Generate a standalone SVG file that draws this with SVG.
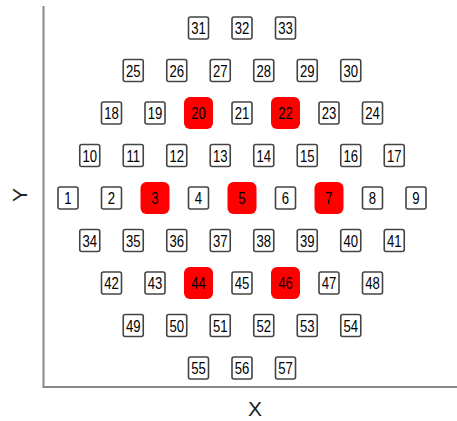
<svg xmlns="http://www.w3.org/2000/svg" width="457" height="421" viewBox="0 0 457 421">
<style>
.b{fill:#fff;stroke:#444;stroke-width:1.6}
.r{fill:#f00;stroke:none}
.t{font-family:"Liberation Sans",Arial,sans-serif;font-size:16px;fill:#000;text-anchor:middle;transform:scale(0.82,1)}
.ax{stroke:#888;stroke-width:2;fill:none}
.lbl{font-family:"Liberation Sans",Arial,sans-serif;font-size:21px;fill:#222;text-anchor:middle}
</style>
<rect width="457" height="421" fill="#fff"/>
<g id="axes">
<path class="ax" d="M43.5,6 V387 H457"/>
<text class="lbl" x="255" y="416">X</text>
<text class="lbl" transform="translate(27,195) rotate(-90)">Y</text>
</g>
<g id="connectors"/>
<g id="n31" transform="translate(198.5,28)"><rect class="b" x="-10" y="-11" width="20" height="22" rx="2"/><text class="t" y="6">31</text></g>
<g id="n32" transform="translate(242,28)"><rect class="b" x="-10" y="-11" width="20" height="22" rx="2"/><text class="t" y="6">32</text></g>
<g id="n33" transform="translate(285.5,28)"><rect class="b" x="-10" y="-11" width="20" height="22" rx="2"/><text class="t" y="6">33</text></g>
<g id="n25" transform="translate(133.25,70.5)"><rect class="b" x="-10" y="-11" width="20" height="22" rx="2"/><text class="t" y="6">25</text></g>
<g id="n26" transform="translate(176.75,70.5)"><rect class="b" x="-10" y="-11" width="20" height="22" rx="2"/><text class="t" y="6">26</text></g>
<g id="n27" transform="translate(220.25,70.5)"><rect class="b" x="-10" y="-11" width="20" height="22" rx="2"/><text class="t" y="6">27</text></g>
<g id="n28" transform="translate(263.75,70.5)"><rect class="b" x="-10" y="-11" width="20" height="22" rx="2"/><text class="t" y="6">28</text></g>
<g id="n29" transform="translate(307.25,70.5)"><rect class="b" x="-10" y="-11" width="20" height="22" rx="2"/><text class="t" y="6">29</text></g>
<g id="n30" transform="translate(350.75,70.5)"><rect class="b" x="-10" y="-11" width="20" height="22" rx="2"/><text class="t" y="6">30</text></g>
<g id="n18" transform="translate(111.5,113)"><rect class="b" x="-10" y="-11" width="20" height="22" rx="2"/><text class="t" y="6">18</text></g>
<g id="n19" transform="translate(155,113)"><rect class="b" x="-10" y="-11" width="20" height="22" rx="2"/><text class="t" y="6">19</text></g>
<g id="n20" transform="translate(198.5,113)"><rect class="r" x="-14.5" y="-16" width="29" height="32" rx="6"/><text class="t" y="6">20</text></g>
<g id="n21" transform="translate(242,113)"><rect class="b" x="-10" y="-11" width="20" height="22" rx="2"/><text class="t" y="6">21</text></g>
<g id="n22" transform="translate(285.5,113)"><rect class="r" x="-14.5" y="-16" width="29" height="32" rx="6"/><text class="t" y="6">22</text></g>
<g id="n23" transform="translate(329,113)"><rect class="b" x="-10" y="-11" width="20" height="22" rx="2"/><text class="t" y="6">23</text></g>
<g id="n24" transform="translate(372.5,113)"><rect class="b" x="-10" y="-11" width="20" height="22" rx="2"/><text class="t" y="6">24</text></g>
<g id="n10" transform="translate(89.75,155.5)"><rect class="b" x="-10" y="-11" width="20" height="22" rx="2"/><text class="t" y="6">10</text></g>
<g id="n11" transform="translate(133.25,155.5)"><rect class="b" x="-10" y="-11" width="20" height="22" rx="2"/><text class="t" y="6">11</text></g>
<g id="n12" transform="translate(176.75,155.5)"><rect class="b" x="-10" y="-11" width="20" height="22" rx="2"/><text class="t" y="6">12</text></g>
<g id="n13" transform="translate(220.25,155.5)"><rect class="b" x="-10" y="-11" width="20" height="22" rx="2"/><text class="t" y="6">13</text></g>
<g id="n14" transform="translate(263.75,155.5)"><rect class="b" x="-10" y="-11" width="20" height="22" rx="2"/><text class="t" y="6">14</text></g>
<g id="n15" transform="translate(307.25,155.5)"><rect class="b" x="-10" y="-11" width="20" height="22" rx="2"/><text class="t" y="6">15</text></g>
<g id="n16" transform="translate(350.75,155.5)"><rect class="b" x="-10" y="-11" width="20" height="22" rx="2"/><text class="t" y="6">16</text></g>
<g id="n17" transform="translate(394.25,155.5)"><rect class="b" x="-10" y="-11" width="20" height="22" rx="2"/><text class="t" y="6">17</text></g>
<g id="n1" transform="translate(68,198)"><rect class="b" x="-10" y="-11" width="20" height="22" rx="2"/><text class="t" y="6">1</text></g>
<g id="n2" transform="translate(111.5,198)"><rect class="b" x="-10" y="-11" width="20" height="22" rx="2"/><text class="t" y="6">2</text></g>
<g id="n3" transform="translate(155,198)"><rect class="r" x="-14.5" y="-16" width="29" height="32" rx="6"/><text class="t" y="6">3</text></g>
<g id="n4" transform="translate(198.5,198)"><rect class="b" x="-10" y="-11" width="20" height="22" rx="2"/><text class="t" y="6">4</text></g>
<g id="n5" transform="translate(242,198)"><rect class="r" x="-14.5" y="-16" width="29" height="32" rx="6"/><text class="t" y="6">5</text></g>
<g id="n6" transform="translate(285.5,198)"><rect class="b" x="-10" y="-11" width="20" height="22" rx="2"/><text class="t" y="6">6</text></g>
<g id="n7" transform="translate(329,198)"><rect class="r" x="-14.5" y="-16" width="29" height="32" rx="6"/><text class="t" y="6">7</text></g>
<g id="n8" transform="translate(372.5,198)"><rect class="b" x="-10" y="-11" width="20" height="22" rx="2"/><text class="t" y="6">8</text></g>
<g id="n9" transform="translate(416,198)"><rect class="b" x="-10" y="-11" width="20" height="22" rx="2"/><text class="t" y="6">9</text></g>
<g id="n34" transform="translate(89.75,240.5)"><rect class="b" x="-10" y="-11" width="20" height="22" rx="2"/><text class="t" y="6">34</text></g>
<g id="n35" transform="translate(133.25,240.5)"><rect class="b" x="-10" y="-11" width="20" height="22" rx="2"/><text class="t" y="6">35</text></g>
<g id="n36" transform="translate(176.75,240.5)"><rect class="b" x="-10" y="-11" width="20" height="22" rx="2"/><text class="t" y="6">36</text></g>
<g id="n37" transform="translate(220.25,240.5)"><rect class="b" x="-10" y="-11" width="20" height="22" rx="2"/><text class="t" y="6">37</text></g>
<g id="n38" transform="translate(263.75,240.5)"><rect class="b" x="-10" y="-11" width="20" height="22" rx="2"/><text class="t" y="6">38</text></g>
<g id="n39" transform="translate(307.25,240.5)"><rect class="b" x="-10" y="-11" width="20" height="22" rx="2"/><text class="t" y="6">39</text></g>
<g id="n40" transform="translate(350.75,240.5)"><rect class="b" x="-10" y="-11" width="20" height="22" rx="2"/><text class="t" y="6">40</text></g>
<g id="n41" transform="translate(394.25,240.5)"><rect class="b" x="-10" y="-11" width="20" height="22" rx="2"/><text class="t" y="6">41</text></g>
<g id="n42" transform="translate(111.5,283)"><rect class="b" x="-10" y="-11" width="20" height="22" rx="2"/><text class="t" y="6">42</text></g>
<g id="n43" transform="translate(155,283)"><rect class="b" x="-10" y="-11" width="20" height="22" rx="2"/><text class="t" y="6">43</text></g>
<g id="n44" transform="translate(198.5,283)"><rect class="r" x="-14.5" y="-16" width="29" height="32" rx="6"/><text class="t" y="6">44</text></g>
<g id="n45" transform="translate(242,283)"><rect class="b" x="-10" y="-11" width="20" height="22" rx="2"/><text class="t" y="6">45</text></g>
<g id="n46" transform="translate(285.5,283)"><rect class="r" x="-14.5" y="-16" width="29" height="32" rx="6"/><text class="t" y="6">46</text></g>
<g id="n47" transform="translate(329,283)"><rect class="b" x="-10" y="-11" width="20" height="22" rx="2"/><text class="t" y="6">47</text></g>
<g id="n48" transform="translate(372.5,283)"><rect class="b" x="-10" y="-11" width="20" height="22" rx="2"/><text class="t" y="6">48</text></g>
<g id="n49" transform="translate(133.25,325.5)"><rect class="b" x="-10" y="-11" width="20" height="22" rx="2"/><text class="t" y="6">49</text></g>
<g id="n50" transform="translate(176.75,325.5)"><rect class="b" x="-10" y="-11" width="20" height="22" rx="2"/><text class="t" y="6">50</text></g>
<g id="n51" transform="translate(220.25,325.5)"><rect class="b" x="-10" y="-11" width="20" height="22" rx="2"/><text class="t" y="6">51</text></g>
<g id="n52" transform="translate(263.75,325.5)"><rect class="b" x="-10" y="-11" width="20" height="22" rx="2"/><text class="t" y="6">52</text></g>
<g id="n53" transform="translate(307.25,325.5)"><rect class="b" x="-10" y="-11" width="20" height="22" rx="2"/><text class="t" y="6">53</text></g>
<g id="n54" transform="translate(350.75,325.5)"><rect class="b" x="-10" y="-11" width="20" height="22" rx="2"/><text class="t" y="6">54</text></g>
<g id="n55" transform="translate(198.5,368)"><rect class="b" x="-10" y="-11" width="20" height="22" rx="2"/><text class="t" y="6">55</text></g>
<g id="n56" transform="translate(242,368)"><rect class="b" x="-10" y="-11" width="20" height="22" rx="2"/><text class="t" y="6">56</text></g>
<g id="n57" transform="translate(285.5,368)"><rect class="b" x="-10" y="-11" width="20" height="22" rx="2"/><text class="t" y="6">57</text></g>
</svg>
